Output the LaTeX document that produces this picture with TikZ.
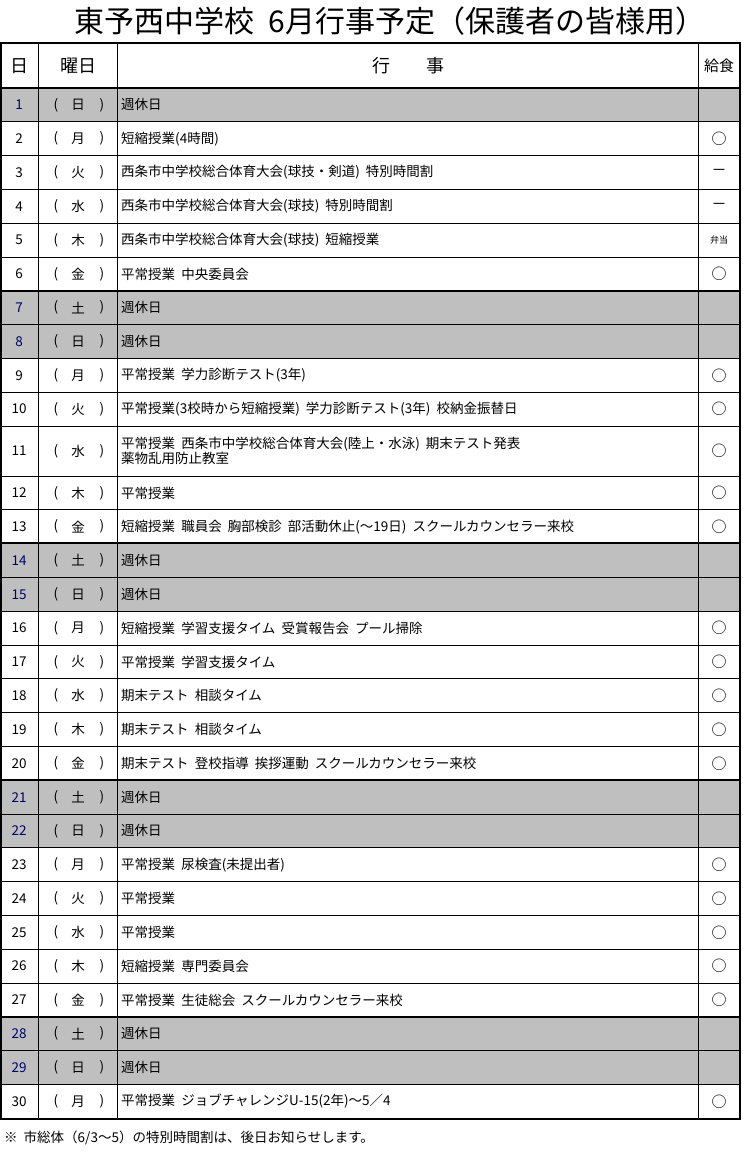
\documentclass[tikz,border=0pt]{standalone}
\usepackage{fontspec}
\setmainfont{Noto Sans CJK JP}
\begin{document}
\begin{tikzpicture}[x=1pt,y=-1pt,
  cell/.style={font=\fontsize{13.5}{15}\selectfont,inner sep=0pt},
  ev/.style={cell,anchor=west,align=left},
  thin/.style={line width=0.8pt},
  thick/.style={line width=2pt}]
\useasboundingbox (0,0) rectangle (742,1158);
\node[inner sep=0pt,font=\fontsize{30}{32}\selectfont] (title) at (390,21) {東予西中学校\ \ 6月行事予定（保護者の皆様用）};
\def\rows{1/日/週休日//1,2/月/短縮授業(4時間)/○/0,3/火/西条市中学校総合体育大会(球技・剣道)\ \ 特別時間割/－/0,4/水/西条市中学校総合体育大会(球技)\ \ 特別時間割/－/0,5/木/西条市中学校総合体育大会(球技)\ \ 短縮授業/{\fontsize{9}{10}\selectfont 弁当}/0,6/金/平常授業\ \ 中央委員会/○/0,7/土/週休日//1,8/日/週休日//1,9/月/平常授業\ \ 学力診断テスト(3年)/○/0,10/火/平常授業(3校時から短縮授業)\ \ 学力診断テスト(3年)\ \ 校納金振替日/○/0,11/水/{平常授業\ \ 西条市中学校総合体育大会(陸上・水泳)\ \ 期末テスト発表\\薬物乱用防止教室}/○/0,12/木/平常授業/○/0,13/金/短縮授業\ \ 職員会\ \ 胸部検診\ \ 部活動休止(～19日)\ \ スクールカウンセラー来校/○/0,14/土/週休日//1,15/日/週休日//1,16/月/短縮授業\ \ 学習支援タイム\ \ 受賞報告会\ \ プール掃除/○/0,17/火/平常授業\ \ 学習支援タイム/○/0,18/水/期末テスト\ \ 相談タイム/○/0,19/木/期末テスト\ \ 相談タイム/○/0,20/金/期末テスト\ \ 登校指導\ \ 挨拶運動\ \ スクールカウンセラー来校/○/0,21/土/週休日//1,22/日/週休日//1,23/月/平常授業\ \ 尿検査(未提出者)/○/0,24/火/平常授業/○/0,25/水/平常授業/○/0,26/木/短縮授業\ \ 専門委員会/○/0,27/金/平常授業\ \ 生徒総会\ \ スクールカウンセラー来校/○/0,28/土/週休日//1,29/日/週休日//1,30/月/平常授業\ \ ジョブチャレンジU-15(2年)～5／4/○/0}
\foreach \d/\w/\e/\m/\g in \rows {
  \pgfmathsetmacro{\top}{\d<11 ? 88+(\d-1)*33.8 : (\d==11 ? 426 : 476+(\d-12)*33.8)}
  \pgfmathsetmacro{\bot}{\d==11 ? 476 : \top+33.8}
  \ifnum\g=1 \fill[gray!50] (1,\top) rectangle (740,\bot); \fi
}
\foreach \d/\w/\e/\m/\g in \rows {
  \pgfmathsetmacro{\top}{\d<11 ? 88+(\d-1)*33.8 : (\d==11 ? 426 : 476+(\d-12)*33.8)}
  \pgfmathsetmacro{\bot}{\d==11 ? 476 : \top+33.8}
  \pgfmathsetmacro{\mid}{(\top+\bot)/2}
  \draw[thin] (1,\bot) -- (740,\bot);
  \ifnum\g=1
    \node[cell,text=blue!40!black] (n\d) at (19,\mid) {\d};
  \else
    \node[cell] (n\d) at (19,\mid) {\d};
  \fi
  \node[cell] (pl\d) at (56,\mid) {(};
  \node[cell] (w\d) at (78,\mid) {\w};
  \node[cell] (pr\d) at (102,\mid) {)};
  \node[ev] (e\d) at (121,\mid) {\e};
  \node[cell,font=\fontsize{15}{16}\selectfont] (m\d) at (719,\mid) {\m};
}
\foreach \y in {290.8,543.4,780,1016.6} \draw[thick] (1,\y) -- (740,\y);
\draw[thick] (1,88) -- (740,88);
\foreach \x in {38,117,698} \draw[thin] (\x,43) -- (\x,1119);
\draw[thick] (1,43) rectangle (740,1119);
\node[inner sep=0pt,font=\fontsize{18}{19}\selectfont] (h1) at (19,66) {日};
\node[inner sep=0pt,font=\fontsize{18}{19}\selectfont] (h2) at (78,66) {曜日};
\node[inner sep=0pt,font=\fontsize{18}{19}\selectfont] (h3) at (408,66) {行\qquad 事};
\node[inner sep=0pt,font=\fontsize{15}{17}\selectfont] (h4) at (719,66) {給食};
\node[cell,anchor=west] (foot) at (4,1138) {※\ \ 市総体（6/3～5）の特別時間割は、後日お知らせします。};
\end{tikzpicture}
\end{document}
